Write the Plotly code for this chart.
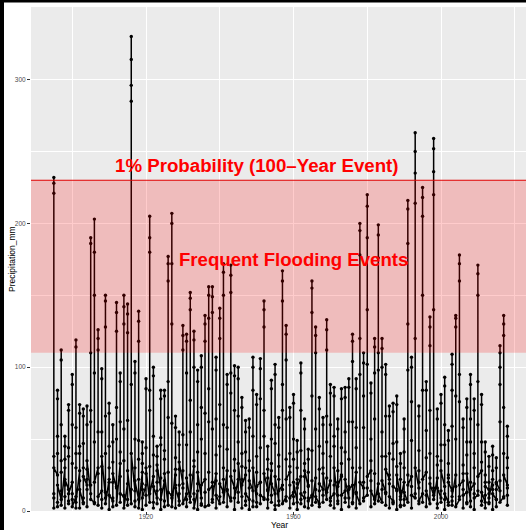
import plotly.graph_objects as go

# Year of each block of readings (several readings per year, plotted at the same year)
years = list(range(1895, 2019))

precip_1890s = [
    [12, 2, 232, 228, 221, 30],
    [25, 84, 78, 40, 6, 18],
    [8, 35, 112, 105, 60, 4],
    [30, 52, 45, 10, 2, 22],
    [15, 74, 70, 38, 5, 12],
]
precip_1900s = [
    [20, 95, 88, 60, 8, 3],
    [10, 40, 119, 114, 30, 6],
    [28, 74, 68, 45, 2, 15],
    [5, 71, 66, 30, 9, 24],
    [18, 73, 60, 22, 3, 35],
    [12, 190, 186, 110, 70, 8],
    [6, 96, 203, 180, 150, 20],
    [30, 126, 120, 112, 4, 10],
    [14, 99, 92, 55, 2, 38],
    [9, 150, 146, 128, 40, 5],
]
precip_1910s = [
    [22, 75, 68, 30, 1, 11],
    [7, 60, 48, 20, 3, 26],
    [16, 145, 138, 125, 50, 4],
    [33, 96, 90, 62, 6, 12],
    [10, 150, 142, 130, 35, 2],
    [19, 144, 137, 124, 8, 28],
    [5, 330, 314, 296, 285, 40],
    [14, 104, 96, 50, 3, 21],
    [8, 139, 132, 118, 36, 2],
    [27, 48, 40, 15, 1, 9],
]
precip_1920s = [
    [18, 92, 85, 44, 4, 30],
    [6, 205, 190, 180, 70, 12],
    [24, 100, 94, 52, 2, 17],
    [9, 45, 38, 20, 5, 32],
    [15, 84, 78, 46, 1, 8],
    [21, 84, 80, 36, 7, 26],
    [4, 177, 172, 160, 65, 13],
    [11, 207, 200, 172, 130, 3],
    [29, 66, 58, 25, 2, 16],
    [7, 55, 46, 18, 4, 34],
]
precip_1930s = [
    [19, 129, 122, 112, 28, 5],
    [12, 123, 118, 96, 3, 23],
    [6, 152, 148, 140, 55, 10],
    [31, 125, 119, 100, 8, 2],
    [14, 98, 90, 60, 1, 27],
    [9, 108, 100, 72, 5, 18],
    [22, 136, 130, 118, 40, 3],
    [4, 156, 150, 134, 62, 15],
    [17, 156, 149, 138, 20, 8],
    [26, 107, 98, 64, 2, 11],
]
precip_1940s = [
    [5, 141, 134, 120, 45, 19],
    [13, 172, 166, 150, 30, 6],
    [28, 95, 88, 58, 3, 14],
    [7, 171, 164, 152, 82, 24],
    [16, 101, 94, 70, 1, 9],
    [22, 100, 92, 66, 6, 33],
    [10, 79, 72, 40, 2, 18],
    [25, 63, 55, 30, 4, 12],
    [8, 64, 58, 28, 1, 21],
    [14, 107, 100, 84, 7, 30],
]
precip_1950s = [
    [6, 81, 74, 38, 3, 17],
    [20, 106, 99, 78, 5, 11],
    [9, 146, 140, 128, 52, 26],
    [15, 45, 36, 14, 2, 8],
    [28, 91, 85, 50, 6, 19],
    [12, 102, 95, 60, 1, 24],
    [7, 65, 58, 31, 4, 14],
    [18, 167, 160, 146, 70, 5],
    [10, 129, 123, 105, 36, 22],
    [27, 72, 65, 40, 2, 9],
]
precip_1960s = [
    [13, 81, 75, 50, 5, 20],
    [6, 49, 41, 22, 1, 16],
    [24, 103, 96, 70, 8, 12],
    [9, 64, 57, 33, 3, 28],
    [17, 43, 36, 18, 2, 7],
    [11, 160, 155, 138, 42, 4],
    [23, 128, 122, 110, 15, 10],
    [5, 79, 71, 45, 3, 19],
    [15, 65, 60, 30, 6, 26],
    [8, 133, 126, 112, 48, 13],
]
precip_1970s = [
    [21, 88, 82, 60, 4, 9],
    [12, 86, 80, 52, 2, 30],
    [7, 64, 57, 28, 5, 17],
    [25, 85, 78, 44, 1, 11],
    [14, 86, 79, 55, 6, 22],
    [9, 92, 86, 62, 3, 15],
    [18, 123, 118, 104, 30, 6],
    [27, 92, 85, 58, 2, 12],
    [5, 200, 195, 178, 120, 20],
    [16, 110, 103, 80, 7, 9],
]
precip_1980s = [
    [11, 220, 212, 190, 140, 24],
    [28, 89, 82, 50, 3, 14],
    [8, 120, 114, 96, 26, 5],
    [19, 199, 192, 176, 98, 12],
    [6, 120, 113, 100, 38, 21],
    [13, 102, 95, 66, 4, 29],
    [22, 73, 66, 40, 2, 10],
    [7, 75, 69, 36, 5, 17],
    [15, 80, 74, 48, 1, 25],
    [10, 40, 33, 14, 3, 8],
]
precip_1990s = [
    [20, 64, 57, 30, 4, 13],
    [6, 216, 210, 186, 130, 18],
    [24, 107, 100, 76, 2, 11],
    [9, 263, 250, 235, 214, 30],
    [16, 73, 66, 42, 5, 7],
    [12, 225, 218, 205, 150, 22],
    [27, 90, 84, 56, 3, 14],
    [5, 135, 128, 115, 40, 19],
    [11, 259, 252, 236, 220, 8],
    [23, 71, 64, 38, 2, 16],
]
precip_2000s = [
    [9, 81, 75, 46, 6, 28],
    [17, 93, 87, 60, 1, 12],
    [6, 56, 49, 25, 4, 20],
    [14, 109, 102, 84, 7, 10],
    [25, 136, 134, 128, 50, 3],
    [8, 178, 172, 160, 76, 18],
    [21, 64, 58, 32, 2, 11],
    [13, 78, 72, 48, 5, 26],
    [7, 95, 88, 64, 3, 15],
    [19, 78, 70, 40, 1, 9],
]
precip_2010s = [
    [11, 171, 165, 150, 60, 24],
    [28, 81, 74, 48, 4, 13],
    [6, 48, 41, 20, 2, 17],
    [15, 38, 31, 12, 5, 9],
    [22, 45, 39, 18, 1, 12],
    [8, 37, 30, 15, 3, 20],
    [14, 115, 110, 100, 88, 6],
    [10, 136, 130, 122, 40, 25],
    [18, 59, 52, 30, 4, 11],
]

# additional mid-year readings for each year
extra_1890s = [[38, 9], [52, 3], [27, 14], [18, 36], [44, 7]]
extra_1900s = [[33, 12], [58, 2], [21, 40], [47, 6], [29, 15], [62, 18], [48, 5], [55, 26], [31, 8], [66, 13]]
extra_1910s = [[45, 20], [34, 9], [72, 17], [24, 41], [57, 11], [63, 4], [88, 15], [30, 7], [49, 22], [19, 33]]
extra_1920s = [[26, 11], [84, 31], [39, 6], [28, 14], [51, 23], [42, 3], [90, 27], [61, 9], [37, 18], [29, 12]]
extra_1930s = [[53, 16], [46, 8], [77, 25], [35, 12], [41, 19], [50, 4], [68, 13], [85, 27], [57, 6], [39, 21]]
extra_1940s = [[74, 10], [60, 22], [43, 15], [96, 9], [36, 28], [48, 13], [22, 31], [41, 7], [35, 16], [52, 3]]
extra_1950s = [[27, 12], [44, 20], [70, 8], [23, 29], [33, 11], [47, 4], [39, 22], [88, 15], [64, 7], [31, 18]]
extra_1960s = [[36, 10], [30, 19], [42, 5], [24, 13], [27, 9], [80, 21], [57, 6], [29, 14], [40, 11], [66, 23]]
extra_1970s = [[38, 7], [45, 18], [20, 11], [33, 24], [41, 9], [36, 17], [62, 5], [44, 13], [95, 30], [58, 20]]
extra_1980s = [[102, 16], [35, 21], [64, 9], [110, 7], [55, 15], [38, 12], [25, 19], [47, 6], [31, 14], [22, 4]]
extra_1990s = [[41, 8], [98, 25], [49, 17], [120, 12], [28, 20], [84, 6], [37, 11], [70, 23], [140, 16], [32, 5]]
extra_2000s = [[35, 14], [46, 8], [33, 23], [59, 4], [80, 17], [95, 10], [26, 15], [39, 6], [48, 20], [30, 12]]
extra_2010s = [[90, 14], [34, 7], [25, 11], [20, 6], [28, 15], [19, 8], [62, 21], [72, 9], [37, 16]]

x_tick_values = [1920, 1960, 2000]
y_tick_values = [0, 100, 200, 300]
flood_low = 110
hundred_year = 230
label_100yr = "1% Probability (100\u2013Year Event)"
label_frequent = "Frequent Flooding Events"

blocks = (precip_1890s + precip_1900s + precip_1910s + precip_1920s + precip_1930s +
          precip_1940s + precip_1950s + precip_1960s + precip_1970s + precip_1980s +
          precip_1990s + precip_2000s + precip_2010s)
extras = (extra_1890s + extra_1900s + extra_1910s + extra_1920s + extra_1930s +
          extra_1940s + extra_1950s + extra_1960s + extra_1970s + extra_1980s +
          extra_1990s + extra_2000s + extra_2010s)

xs, ys = [], []
for yr, vals, ext in zip(years, blocks, extras):
    for v in vals[:4] + ext + vals[4:]:
        xs.append(yr)
        ys.append(v)

fig = go.Figure()
fig.add_trace(go.Scatter(
    x=xs, y=ys, mode="lines+markers",
    line=dict(color="black", width=1.5),
    marker=dict(color="black", size=3.4),
    showlegend=False, hoverinfo="skip",
))

# shaded band (drawn above data like the ggplot annotate layer)
fig.add_shape(type="rect", xref="paper", x0=0, x1=1, yref="y", y0=flood_low, y1=hundred_year,
              fillcolor="rgba(255,0,0,0.2)", line=dict(width=0), layer="above")
fig.add_shape(type="line", xref="paper", x0=0, x1=1, yref="y", y0=hundred_year, y1=hundred_year,
              line=dict(color="#E00000", width=1.2), layer="above")

fig.add_annotation(x=1950, y=240, xref="x", yref="y", text="<b>" + label_100yr + "</b>", showarrow=False,
                   font=dict(family="Liberation Sans, Arial, sans-serif", size=18.7, color="#FF0000"),
                   xanchor="center", yanchor="middle")
fig.add_annotation(x=1960, y=175, xref="x", yref="y", text="<b>" + label_frequent + "</b>", showarrow=False,
                   font=dict(family="Liberation Sans, Arial, sans-serif", size=18.6, color="#FF0000"),
                   xanchor="center", yanchor="middle")

# axis titles
fig.add_annotation(x=0.503, y=-0.027, xref="paper", yref="paper", text="Year", showarrow=False,
                   font=dict(family="Liberation Sans, Arial, sans-serif", size=8.5, color="black"),
                   xanchor="center", yanchor="middle")
fig.add_annotation(x=-0.0384, y=0.5, xref="paper", yref="paper", text="Precipitation_mm", showarrow=False,
                   textangle=-90,
                   font=dict(family="Liberation Sans, Arial, sans-serif", size=8.5, color="black"),
                   xanchor="center", yanchor="middle")

# black frame strips at the image edges
fig.add_shape(type="rect", xref="paper", yref="paper", x0=-31/495, x1=(4-31)/495,
              y0=-19/504, y1=1+7/504, fillcolor="black", line=dict(width=0), layer="above")
fig.add_shape(type="rect", xref="paper", yref="paper", x0=-31/495, x1=1,
              y0=1+4.5/504, y1=1+7/504, fillcolor="black", line=dict(width=0), layer="above")

tickfont = dict(family="Liberation Sans, Arial, sans-serif", size=6.5, color="#4D4D4D")
fig.update_xaxes(range=[1888.81, 2023.05], tickvals=x_tick_values, ticks="outside", ticklen=2.5,
                 tickcolor="#333333", tickwidth=0.8, tickfont=tickfont, showgrid=True,
                 ticklabelstandoff=-3,
                 gridcolor="white", gridwidth=1.2, zeroline=False, showline=False,
                 minor=dict(dtick=20, tick0=1900, showgrid=True, gridcolor="white", gridwidth=0.6, ticks=""))
fig.update_yaxes(range=[0, 350.5], tickvals=y_tick_values, ticks="outside", ticklen=3,
                 tickcolor="#333333", tickwidth=0.8, tickfont=tickfont, showgrid=True,
                 gridcolor="white", gridwidth=1.2, zeroline=False, showline=False,
                 minor=dict(dtick=50, tick0=0, showgrid=True, gridcolor="white", gridwidth=0.6, ticks=""))

fig.update_layout(
    width=526, height=530,
    margin=dict(l=31, r=0, t=7, b=19),
    paper_bgcolor="white", plot_bgcolor="#EBEBEB",
    showlegend=False,
)

fig.write_html("out.html", config={"displayModeBar": False},
               post_script="document.body.style.margin='0';document.body.style.padding='0';"
                           "document.body.style.overflow='hidden';")
